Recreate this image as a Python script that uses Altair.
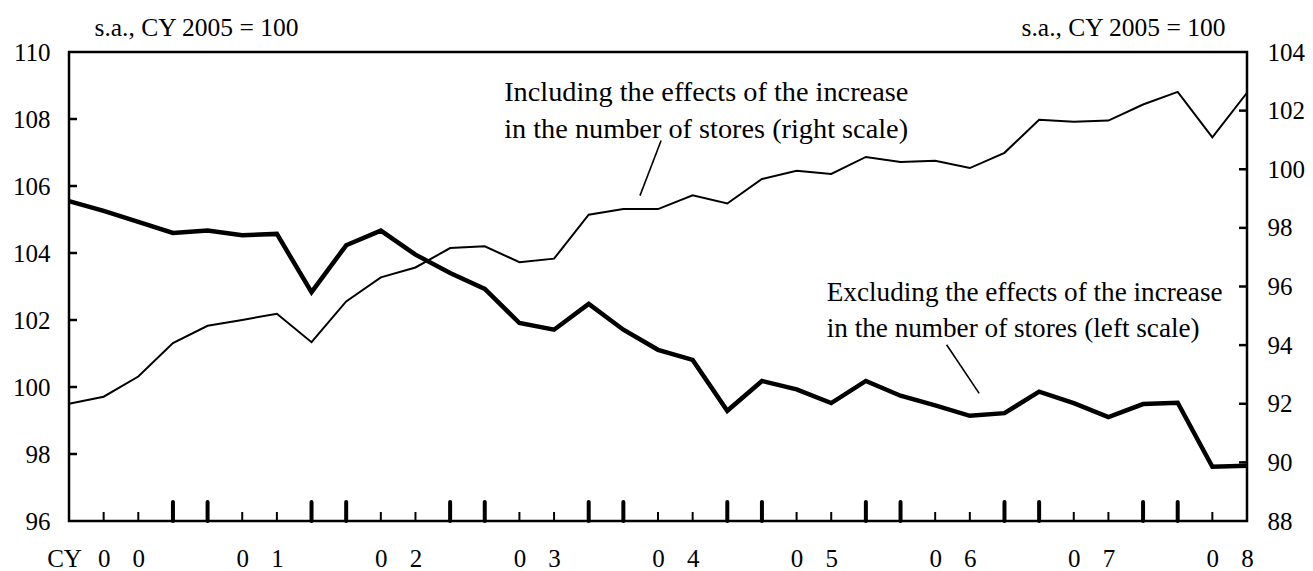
import altair as alt
import pandas as pd

# ---------------- data ----------------
periods = [
    "2000Q1", "2000Q2", "2000Q3", "2000Q4",
    "2001Q1", "2001Q2", "2001Q3", "2001Q4",
    "2002Q1", "2002Q2", "2002Q3", "2002Q4",
    "2003Q1", "2003Q2", "2003Q3", "2003Q4",
    "2004Q1", "2004Q2", "2004Q3", "2004Q4",
    "2005Q1", "2005Q2", "2005Q3", "2005Q4",
    "2006Q1", "2006Q2", "2006Q3", "2006Q4",
    "2007Q1", "2007Q2", "2007Q3", "2007Q4",
    "2008Q1", "2008Q2", "2008Q3",
]
# Excluding the effects of the increase in the number of stores (left scale)
excl_stores = [105.55, 105.26, 104.93, 104.60, 104.67, 104.53, 104.57, 102.83,
               104.23, 104.67, 103.95, 103.40, 102.93, 101.91, 101.71, 102.48,
               101.71, 101.11, 100.81, 99.29, 100.18, 99.93, 99.52, 100.18,
               99.74, 99.45, 99.14, 99.22, 99.86, 99.52, 99.10, 99.49,
               99.53, 97.62, 97.65]
# Including the effects of the increase in the number of stores (right scale)
incl_stores = [92.00, 92.24, 92.93, 94.07, 94.66, 94.86, 95.07, 94.10,
               95.49, 96.31, 96.65, 97.31, 97.37, 96.83, 96.95, 98.45,
               98.64, 98.64, 99.11, 98.83, 99.67, 99.95, 99.84, 100.42,
               100.25, 100.29, 100.04, 100.56, 101.69, 101.62, 101.66, 102.21,
               102.64, 101.09, 102.61]
left_labels = [96, 98, 100, 102, 104, 106, 108, 110]
right_labels = [88, 90, 92, 94, 96, 98, 100, 102, 104]
left_inner_ticks = [98, 100, 102, 104, 106, 108]
right_inner_ticks = [90, 92, 94, 96, 98, 100, 102]
unit_text = "s.a., CY 2005 = 100"
ann_incl_text = "Including the effects of the increase\nin the number of stores (right scale)"
ann_excl_text = "Excluding the effects of the increase\nin the number of stores (left scale)"

df = pd.DataFrame({"period": periods, "excl": excl_stores, "incl": incl_stores})
df["idx"] = list(range(len(periods)))
df["q"] = [int(p[-1]) for p in periods]
n_last = len(periods) - 1

# ---------------- styling ----------------
W, H = 1178, 469
FONT = "Liberation Serif"
LBL = 25

xscale = alt.Scale(domain=[0, n_last], nice=False, zero=False)
lscale = alt.Scale(domain=[left_labels[0], left_labels[-1]], nice=False, zero=False)
rscale = alt.Scale(domain=[right_labels[0], right_labels[-1]], nice=False, zero=False)

xaxis = alt.Axis(
    values=list(range(len(periods))),
    labelExpr="datum.value == 0 ? 'CY' : (datum.value % 4 == 1 ? '0' : (datum.value % 4 == 2 ? '' + floor(datum.value / 4) : ''))",
    ticks=False, domain=False, grid=False,
    labelFont=FONT, labelFontSize=LBL, labelColor="black",
    labelPadding=25, labelBaseline="top",
    labelOverlap=False, labelFlush=False, labelBound=False,
    labelOffset={"condition": {"test": "datum.value == 0", "value": -5}, "value": 0},
    title=None,
)
laxis = alt.Axis(
    values=left_labels, orient="left",
    ticks=False, domain=False, grid=False,
    labelFont=FONT, labelFontSize=LBL, labelColor="black",
    labelPadding=19, labelFlush=False,
    title=unit_text, titleAngle=0, titleAlign="left", titleBaseline="alphabetic",
    titleX=25, titleY=-17, titleFont=FONT, titleFontSize=25.5,
    titleFontWeight="normal", titleColor="black",
)
raxis = alt.Axis(
    values=right_labels, orient="right",
    ticks=False, domain=False, grid=False,
    labelFont=FONT, labelFontSize=LBL, labelColor="black",
    labelPadding=20, labelFlush=False,
    title=unit_text, titleAngle=0, titleAlign="right", titleBaseline="alphabetic",
    titleX=-22, titleY=-17, titleFont=FONT, titleFontSize=25.5,
    titleFontWeight="normal", titleColor="black",
)

X = alt.X("idx:Q", scale=xscale, axis=xaxis)

# ---------------- left-scale group ----------------
thick_line = alt.Chart(df).mark_line(color="black", strokeWidth=4.5, strokeJoin="miter").encode(
    x=X, y=alt.Y("excl:Q", scale=lscale, axis=laxis)
)
left_ticks = alt.Chart(pd.DataFrame({"v": left_inner_ticks})).mark_rule(
    color="black", strokeWidth=2.5
).encode(y=alt.Y("v:Q", scale=lscale, axis=laxis), x=alt.value(0), x2=alt.value(8))

small_xticks = alt.Chart(df).transform_filter(
    "(datum.q == 2 || datum.q == 3) && datum.idx > 0 && datum.idx < %d" % n_last
).mark_rule(color="black", strokeWidth=2).encode(
    x=X, y=alt.value(H), y2=alt.value(H - 9)
)
big_xticks = alt.Chart(df).transform_filter(
    "(datum.q == 1 || datum.q == 4) && datum.idx > 0 && datum.idx < %d" % n_last
).mark_rule(color="black", strokeWidth=4, strokeCap="round").encode(
    x=X, y=alt.value(H), y2=alt.value(H - 19)
)

ann_excl = alt.Chart(pd.DataFrame({"x": [21.87], "y": [102.57], "t": [ann_excl_text]})).mark_text(
    align="left", baseline="alphabetic", lineBreak="\n", lineHeight=36.5,
    font=FONT, fontSize=27.2, color="black"
).encode(x=alt.X("x:Q", scale=xscale, axis=xaxis), y=alt.Y("y:Q", scale=lscale, axis=laxis), text="t:N")

lead_excl = alt.Chart(pd.DataFrame({"x": [25.33], "y": [101.26], "x2": [26.27], "y2": [99.81]})).mark_rule(
    color="black", strokeWidth=1.6
).encode(
    x=alt.X("x:Q", scale=xscale, axis=xaxis), x2="x2:Q",
    y=alt.Y("y:Q", scale=lscale, axis=laxis), y2="y2:Q",
)

left_group = alt.layer(thick_line, left_ticks, small_xticks, big_xticks, ann_excl, lead_excl)

# ---------------- right-scale group ----------------
thin_line = alt.Chart(df).mark_line(color="black", strokeWidth=2, strokeJoin="miter").encode(
    x=X, y=alt.Y("incl:Q", scale=rscale, axis=raxis)
)
right_ticks = alt.Chart(pd.DataFrame({"v": right_inner_ticks})).mark_rule(
    color="black", strokeWidth=2.5
).encode(y=alt.Y("v:Q", scale=rscale, axis=raxis), x=alt.value(W), x2=alt.value(W - 8))

ann_incl = alt.Chart(pd.DataFrame({"x": [12.56], "y": [102.32], "t": [ann_incl_text]})).mark_text(
    align="left", baseline="alphabetic", lineBreak="\n", lineHeight=36.5,
    font=FONT, fontSize=28.3, color="black"
).encode(x=alt.X("x:Q", scale=xscale, axis=xaxis), y=alt.Y("y:Q", scale=rscale, axis=raxis), text="t:N")

lead_incl = alt.Chart(pd.DataFrame({"x": [17.09], "y": [100.98], "x2": [16.48], "y2": [99.10]})).mark_rule(
    color="black", strokeWidth=1.6
).encode(
    x=alt.X("x:Q", scale=xscale, axis=xaxis), x2="x2:Q",
    y=alt.Y("y:Q", scale=rscale, axis=raxis), y2="y2:Q",
)

right_group = alt.layer(thin_line, right_ticks, ann_incl, lead_incl)

chart = alt.layer(left_group, right_group).resolve_scale(y="independent").properties(
    width=W, height=H,
    padding={"left": 61, "top": 44, "right": 58, "bottom": 50},
    autosize=alt.AutoSizeParams(type="none"),
    background="white",
).configure_view(stroke="black", strokeWidth=2.5)

chart.save("out.html", embed_options={"renderer": "svg", "actions": False})
